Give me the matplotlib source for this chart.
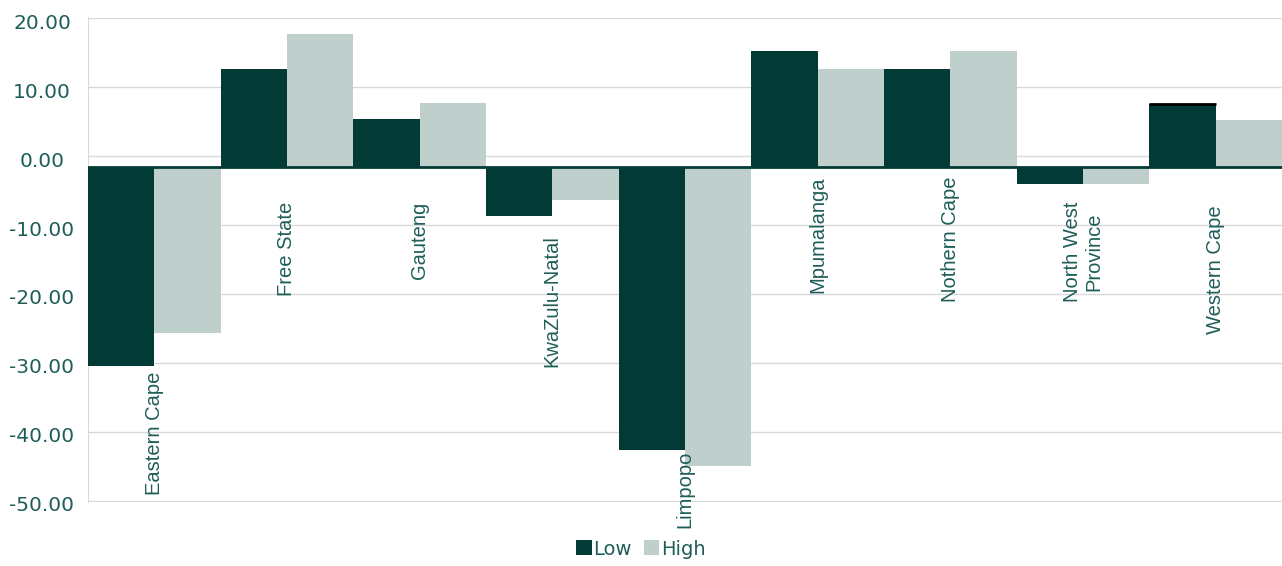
import numpy as np
import matplotlib
matplotlib.use("Agg")
import matplotlib.pyplot as plt
from matplotlib.transforms import blended_transform_factory, ScaledTranslation

# Datos
provinces = ["Eastern Cape", "Free State", "Gauteng", "KwaZulu-Natal", "Limpopo",
             "Mpumalanga", "Nothern Cape", "North West\nProvince", "Western Cape"]
low = [-30.5, 12.7, 5.4, -8.7, -42.7, 15.2, 12.7, -4.0, 7.6]
high = [-25.6, 17.7, 7.7, -6.4, -44.9, 12.7, 15.2, -4.0, 5.3]
y_ticks = [20, 10, 0, -10, -20, -30, -40, -50]

# Estilo
DARK = "#023b36"
LIGHT = "#bfcfcb"
TEXT = "#1f5e58"
GRID = "#d9d9d9"
BASELINE = -1.55  # el eje de categorías queda un poco por debajo de cero
# posición superior de cada etiqueta (unidades del eje y)
label_top = [-31.3, -6.6, -6.6, -11.5, -42.7, -3.0, -3.0, -6.6, -7.1]

fig = plt.figure(figsize=(12.82, 5.66), dpi=100)
ax = fig.add_axes([88 / 1282, 1 - 501.5 / 566, 1 - 88 / 1282, (501.5 - 17.5) / 566])

x = np.arange(len(provinces))
w = 0.5
low_h = [v - BASELINE for v in low]
high_h = [v - BASELINE for v in high]
ax.bar(x - w / 2, low_h, width=w, bottom=BASELINE, color=DARK, label="Low", zorder=3)
ax.bar(x + w / 2, high_h, width=w, bottom=BASELINE, color=LIGHT, label="High", zorder=3)

# borde negro arriba de la barra Western Cape (Low)
ax.hlines(low[-1], x[-1] - w, x[-1], color="black", lw=2, zorder=4)

# línea del eje de categorías
ax.axhline(BASELINE, color=DARK, lw=2, zorder=4)

# etiquetas de categoría giradas
for i, name in enumerate(provinces):
    ax.text(x[i], label_top[i], name, rotation=90, ha="center", va="top",
            multialignment="center", fontsize=14.5, color=TEXT,
            family="Liberation Sans", zorder=5)

ax.set_xlim(-0.5, len(provinces) - 0.5)
ax.set_ylim(-50.12, 20.12)
ax.set_yticks(y_ticks)
ax.set_yticklabels([])
ax.set_xticks([])
ax.tick_params(axis="y", length=0)
ax.grid(axis="y", color=GRID, lw=1, zorder=0)
for s in ["top", "right", "bottom"]:
    ax.spines[s].set_visible(False)
ax.spines["left"].set_color(GRID)

# etiquetas del eje y centradas, un poco por debajo de la línea
trans = blended_transform_factory(ax.transAxes, ax.transData) + \
    ScaledTranslation(-46 / 100, -5 / 100, fig.dpi_scale_trans)
for t in y_ticks:
    ax.text(0, t, f"{t:.2f}", transform=trans, ha="center", va="center",
            fontsize=14.5, color=TEXT, family="DejaVu Sans", clip_on=False)

leg = fig.legend(loc="lower center", bbox_to_anchor=(0.5, -0.018), ncol=2, frameon=False,
                 handlelength=0.8, handleheight=0.8, handletextpad=0.1, columnspacing=0.6,
                 prop={"family": "DejaVu Sans", "size": 14})
for t in leg.get_texts():
    t.set_color(TEXT)

fig.savefig("out.png", dpi=100)
